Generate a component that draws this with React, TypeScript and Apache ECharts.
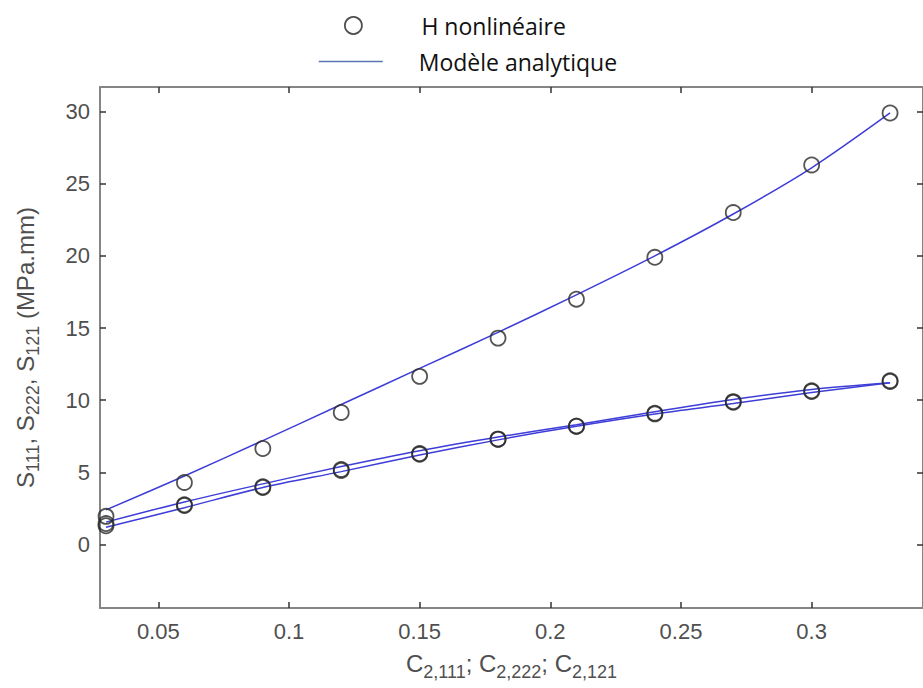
import React, { useEffect, useRef } from "react";
import * as echarts from "echarts";

const xValues = [0.03, 0.06, 0.09, 0.12, 0.15, 0.18, 0.21, 0.24, 0.27, 0.3, 0.33];
const circlesS111 = [1.95, 4.3, 6.65, 9.15, 11.65, 14.3, 17.0, 19.9, 23.0, 26.3, 29.9];
const circlesS222 = [1.3, 2.7, 3.95, 5.13, 6.25, 7.3, 8.2, 9.05, 9.85, 10.6, 11.3];
const circlesS121 = [1.45, 2.75, 4.0, 5.2, 6.3, 7.3, 8.2, 9.1, 9.9, 10.65, 11.35];
const modelS111 = [2.4, 4.75, 7.2, 9.7, 12.2, 14.7, 17.3, 20.0, 22.9, 26.1, 29.9];
const modelS222 = [1.55, 2.95, 4.2, 5.4, 6.5, 7.45, 8.3, 9.2, 10.05, 10.74, 11.2];
const modelS121 = [1.2, 2.55, 3.95, 5.05, 6.2, 7.25, 8.2, 9.05, 9.77, 10.53, 11.2];
const xTicks = [0.05, 0.1, 0.15, 0.2, 0.25, 0.3];
const yTicks = [0, 5, 10, 15, 20, 25, 30];

const NAME_CIRCLES = "H nonlinéaire";
const NAME_MODEL = "Modèle analytique";

const pairs = (ys: number[]) => xValues.map((x, i) => [x, ys[i]]);

export default function App() {
  const ref = useRef<HTMLDivElement>(null);
  useEffect(() => {
    if (!ref.current) return;
    const chart = echarts.init(ref.current, null, { renderer: "svg" });
    const axisColor = "#858585";
    const labelColor = "#4f4f4f";
    const font = "Liberation Sans, Arial, sans-serif";
    const circleStyle = { color: "rgba(0,0,0,0)", borderColor: "#2a2a2a", borderWidth: 1.8 };
    const lineColor = "#3d3dd8";
    const scatter = (ys: number[]) => ({
      type: "scatter",
      name: NAME_CIRCLES,
      data: pairs(ys),
      symbol: "circle",
      symbolSize: 15,
      itemStyle: circleStyle,
      z: 3,
    });
    const model = (ys: number[]) => ({
      type: "line",
      name: NAME_MODEL,
      data: pairs(ys),
      smooth: 0.3,
      symbol: "none",
      showSymbol: false,
      lineStyle: { color: lineColor, width: 1.5 },
      itemStyle: { color: lineColor },
      z: 2,
    });
    const titleStyle = {
      fontFamily: font,
      fontSize: 24,
      color: labelColor,
      lineHeight: 34,
      verticalAlign: "middle",
      rich: {
        sub: { fontFamily: font, fontSize: 18, color: labelColor, lineHeight: 34, verticalAlign: "bottom" },
      },
    };
    const legendBase = {
      orient: "vertical",
      padding: 0,
      itemWidth: 64,
      itemHeight: 17,
      textStyle: {
        fontFamily: "Open Sans, sans-serif",
        fontSize: 23,
        color: "#111",
        padding: [0, 0, 0, 31],
      },
    };
    chart.setOption({
      animation: false,
      backgroundColor: "#ffffff",
      grid: { left: 99, top: 87, right: 0, bottom: 80 },
      legend: [
        {
          ...legendBase,
          left: 344,
          top: 14,
          data: [
            { name: NAME_CIRCLES, icon: "circle", itemStyle: { color: "rgba(0,0,0,0)", borderColor: "#222", borderWidth: 1.8 } },
          ],
        },
        {
          ...legendBase,
          left: 318,
          top: 50,
          data: [
            {
              name: NAME_MODEL,
              lineStyle: { color: "#5a74b4", width: 1.5 },
              itemStyle: { color: "rgba(0,0,0,0)", borderColor: "rgba(0,0,0,0)", borderWidth: 0 },
            },
          ],
        },
      ],
      xAxis: [
        {
          type: "value",
          position: "bottom",
          min: 0.0277,
          max: 0.3426,
          splitLine: { show: false },
          axisLine: { show: true, onZero: false, lineStyle: { color: axisColor, width: 2 } },
          axisTick: { show: true, inside: true, length: 6, customValues: xTicks, lineStyle: { color: "#333", width: 1.5 } },
          axisLabel: {
            customValues: xTicks,
            margin: 12,
            color: labelColor,
            fontFamily: font,
            fontSize: 22,
            formatter: (v: number) => String(Number(v.toFixed(2))),
          },
          name: "C{sub|2,111}; C{sub|2,222}; C{sub|2,121}",
          nameLocation: "middle",
          nameGap: 32,
          nameTextStyle: titleStyle,
        },
        {
          type: "value",
          position: "top",
          min: 0.0277,
          max: 0.3426,
          splitLine: { show: false },
          axisLine: { show: true, onZero: false, lineStyle: { color: axisColor, width: 2 } },
          axisTick: { show: true, inside: true, length: 6, customValues: xTicks, lineStyle: { color: "#333", width: 1.5 } },
          axisLabel: { show: false },
        },
      ],
      yAxis: [
        {
          type: "value",
          position: "left",
          min: -4.4,
          max: 31.7,
          splitLine: { show: false },
          axisLine: { show: true, onZero: false, lineStyle: { color: axisColor, width: 2 } },
          axisTick: { show: true, inside: true, length: 6, customValues: yTicks, lineStyle: { color: "#333", width: 1.5 } },
          axisLabel: {
            customValues: yTicks,
            margin: 10,
            color: labelColor,
            fontFamily: font,
            fontSize: 22,
          },
          name: "S{sub|111}, S{sub|222}, S{sub|121} (MPa.mm)",
          nameLocation: "middle",
          nameGap: 75,
          nameTextStyle: titleStyle,
        },
        {
          type: "value",
          position: "right",
          min: -4.4,
          max: 31.7,
          splitLine: { show: false },
          axisLine: { show: true, onZero: false, lineStyle: { color: axisColor, width: 2 } },
          axisTick: { show: true, inside: true, length: 6, customValues: yTicks, lineStyle: { color: "#333", width: 1.5 } },
          axisLabel: { show: false },
        },
      ],
      series: [
        model(modelS111),
        model(modelS222),
        model(modelS121),
        scatter(circlesS111),
        scatter(circlesS222),
        scatter(circlesS121),
      ],
    });
    return () => chart.dispose();
  }, []);
  return (
    <div
      ref={ref}
      style={{ position: "fixed", left: 0, top: 0, width: 923, height: 688, background: "#fff" }}
    />
  );
}
